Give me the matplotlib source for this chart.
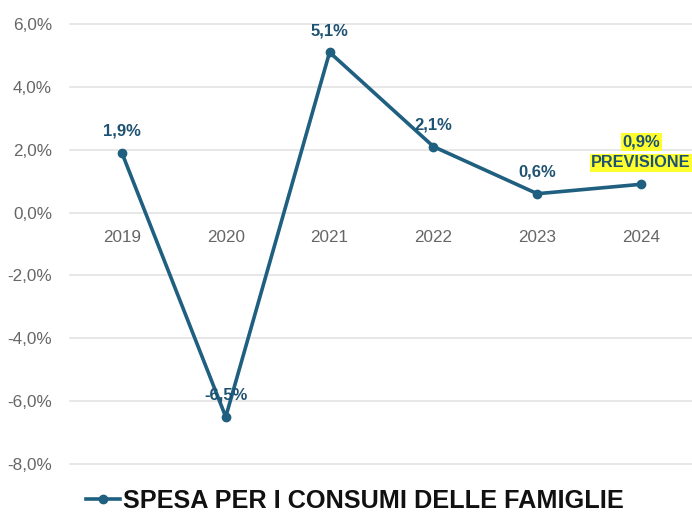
import matplotlib
matplotlib.use("Agg")
import matplotlib.pyplot as plt
from matplotlib.ticker import FuncFormatter

years = ["2019", "2020", "2021", "2022", "2023", "2024"]
values = [1.9, -6.5, 5.1, 2.1, 0.6, 0.9]
value_labels = ["1,9%", "-6,5%", "5,1%", "2,1%", "0,6%", "0,9%"]
series_name = "SPESA PER I CONSUMI DELLE FAMIGLIE"
forecast_note = "PREVISIONE"

line_color = "#1f5f80"
label_color = "#1e5272"
grid_color = "#e3e3e3"
tick_color = "#666666"
highlight = "#ffff2e"

plt.rcParams["font.family"] = ["Liberation Sans", "DejaVu Sans"]

fig = plt.figure(figsize=(6.92, 5.14), dpi=100)
ax = fig.add_axes([70 / 692, 50 / 514, 623 / 692, 440 / 514])

x = list(range(len(years)))
ax.plot(x, values, color=line_color, lw=2.6, marker="o", ms=6,
        solid_joinstyle="miter", zorder=3)

ax.set_xlim(-0.5, len(years) - 0.5)
ax.set_ylim(-8, 6)
ax.set_yticks([6, 4, 2, 0, -2, -4, -6, -8])
ax.yaxis.set_major_formatter(FuncFormatter(lambda v, p: f"{v:.1f}%".replace(".", ",")))
ax.grid(axis="y", color=grid_color, lw=1.2)
for gl in ax.get_ygridlines():
    gl.set_clip_on(False)
ax.set_axisbelow(True)
for s in ax.spines.values():
    s.set_visible(False)
ax.tick_params(axis="y", length=0, labelsize=12.3, labelcolor=tick_color, pad=13)
ax.set_xticks([])

# year labels sit just below the zero line
for xi, yr in zip(x, years):
    ax.annotate(yr, (xi, 0), xytext=(0, -18), textcoords="offset points",
                ha="center", va="center", fontsize=12.3, color=tick_color)

# value labels above each point
for xi, v, lab in zip(x, values, value_labels):
    if xi == len(years) - 1:
        continue
    ax.annotate(lab, (xi, v), xytext=(0, 15.5), textcoords="offset points",
                ha="center", va="center", fontsize=12, fontweight="bold",
                color=label_color, zorder=4)

# forecast label with highlight
xl, vl = x[-1], values[-1]
ax.annotate(value_labels[-1], (xl, vl), xytext=(0, 30.5), textcoords="offset points",
            ha="center", va="center", fontsize=12, fontweight="bold", color=label_color,
            bbox=dict(boxstyle="square,pad=0.1", fc=highlight, ec="none"), zorder=4)
ax.annotate(forecast_note, (xl, vl), xytext=(0, 15.5), textcoords="offset points",
            ha="center", va="center", fontsize=11.7, fontweight="bold", color=label_color,
            bbox=dict(boxstyle="square,pad=0.1", fc=highlight, ec="none"), zorder=4)

# legend entry at the bottom
leg = ax.legend([plt.Line2D([0], [0], color=line_color, lw=2.6, marker="o", ms=6)],
                [series_name], loc="center", bbox_to_anchor=((355 - 70) / 623, -37 / 440),
                frameon=False, handlelength=1.35, handletextpad=0.1,
                prop=dict(size=18.2, weight="bold"))
for t in leg.get_texts():
    t.set_color("#111111")

fig.savefig("out.png", dpi=100)
